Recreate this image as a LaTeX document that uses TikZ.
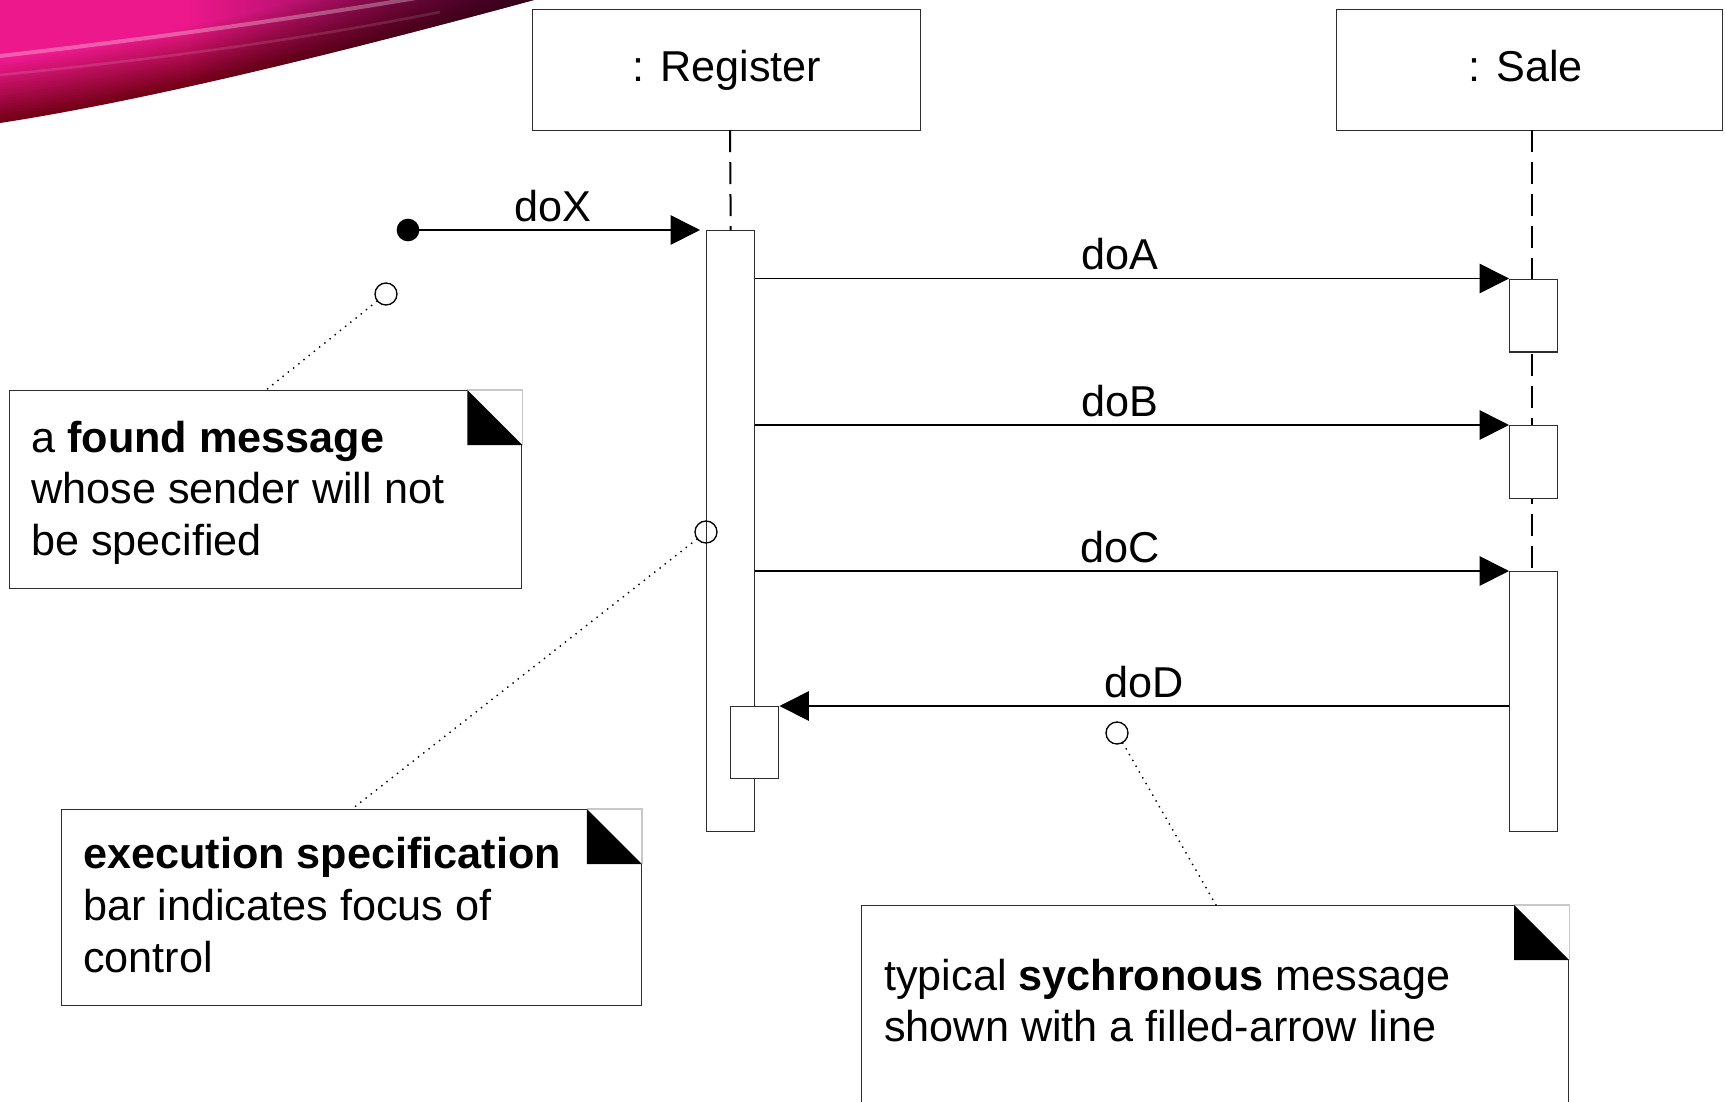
\documentclass[tikz,border=0pt]{standalone}
\usepackage{fontspec}
\setmainfont{Liberation Sans}
\usetikzlibrary{arrows.meta,calc,fadings}
\definecolor{pinkA}{RGB}{236,24,140}
\definecolor{darkB}{RGB}{115,0,22}
\definecolor{shadeC}{RGB}{35,0,30}
\definecolor{boxgray}{RGB}{45,45,45}
\definecolor{cornergray}{RGB}{200,200,200}
\tikzfading[name=darkright, left color=transparent!100, right color=transparent!0]
\begin{document}
\begin{tikzpicture}[x=0.75pt,y=-0.75pt,
  font=\fontsize{32.4}{38.9}\selectfont,
  headbox/.style={draw=boxgray, line width=1.1pt, fill=white, rectangle, inner sep=0, anchor=north west, minimum height=90.75pt},
  headname/.style={anchor=base, inner sep=0},
  barbox/.style={draw=boxgray, line width=1.1pt, fill=white, rectangle, inner sep=0, minimum width=36pt, anchor=north west},
  notebox/.style={draw=boxgray, line width=1.1pt, fill=white, rectangle, inner sep=0, anchor=north west},
  lifeline/.style={draw=black, line width=1.5pt, dash pattern=on 16.5pt off 7.5pt},
  msg/.style={draw=black, line width=1.2pt, -{Triangle[length=22pt, width=22pt]}},
  msglabel/.style={anchor=base, inner sep=0},
  notetext/.style={anchor=base west, inner sep=0},
  ocirc/.style={circle, draw=black, line width=1pt, minimum size=16.5pt, inner sep=0},
  fdot/.style={circle, fill=black, minimum size=17pt, inner sep=0},
  dotline/.style={draw=black, line width=1.5pt, line cap=round, dash pattern=on 0pt off 5pt},
]
\useasboundingbox (0,0) rectangle (1726,1101);
\fill[white] (0,0) rectangle (1726,1101);

% decorative swoosh
\begin{scope}
  \clip (0,0) -- (534,0) .. controls (350,50) and (150,100) .. (0,123) -- cycle;
  \foreach \i in {0,...,45} {
    \pgfmathsetmacro\d{\i*3}
    \pgfmathtruncatemacro\p{min(100,\i*100/20)}
    \fill[pinkA!\p!darkB] (0,-10) -- (0,123-\d) .. controls (150,100-\d) and (350,50-\d) .. (534,-\d) -- (560,-\d) -- (560,-10) -- cycle;
  }
  \fill[shadeC, path fading=darkright, fill opacity=0.8] (190,-5) rectangle (540,140);
  \draw[white, opacity=0.3, line width=3pt] (0,56) .. controls (140,40) and (300,18) .. (440,-6);
  \draw[white, opacity=0.12, line width=2pt] (0,75) .. controls (150,60) and (300,40) .. (440,12);
\end{scope}

% lifeline heads
\node[headbox, minimum width=291pt] (reg) at (532,9) {};
\node[headname] (regname) at ($(reg.north)+(0,72)$) {: Register};
\node[headbox, minimum width=289.5pt] (sale) at (1336,9) {};
\node[headname] (salename) at ($(sale.north)+(-4,72)$) {: Sale};

% coordinates for lifeline tops
\coordinate (regtop) at (730,130);
\coordinate (saletop) at (1532,130);
\coordinate (salebot) at (1532,571);

% Sale lifeline (behind bars)
\draw[lifeline] (saletop) -- (salebot);

% activation bars
\node[barbox, minimum height=450.75pt] (bar1) at (706,230) {};
\draw[lifeline] (regtop) -- (bar1.north);
\node[barbox, minimum height=54pt] (nbar) at (730,706) {};
\node[barbox, minimum height=54.4pt] (sbar1) at (1509,278.5) {};
\node[barbox, minimum height=54.4pt] (sbar2) at (1509,425) {};
\node[barbox, minimum height=195pt] (sbar3) at (1509,571) {};

% found message
\node[fdot] (dot) at (408,230) {};
\coordinate (xend) at (700,230);
\draw[msg] (dot.center) -- (xend);
\node[msglabel] (lx) at (553,221) {doX};

% messages
\draw[msg] (sbar1.north west -| bar1.east) -- (sbar1.north west);
\node[msglabel] (la) at (1120,269) {doA};
\draw[msg] (sbar2.north west -| bar1.east) -- (sbar2.north west);
\node[msglabel] (lb) at (1120,416) {doB};
\draw[msg] (sbar3.north west -| bar1.east) -- (sbar3.north west);
\node[msglabel] (lc) at (1120,562) {doC};
\draw[msg] (nbar.north east -| sbar3.west) -- (nbar.north east);
\node[msglabel] (ld) at (1144,697) {doD};

% notes
\node[notebox, minimum width=384pt, minimum height=148.5pt] (note1) at (9,390) {};
\node[notebox, minimum width=435pt, minimum height=147pt] (note2) at (60.5,809) {};
\node[notebox, minimum width=530pt, minimum height=165pt] (note3) at (861,905) {};
\foreach \n in {note1,note2,note3} {
  \fill[white] ($(\n.north east)+(-55,-3)$) rectangle ($(\n.north east)+(3,55)$);
  \draw[cornergray, line width=0.8pt] ($(\n.north east)+(-55,0)$) -- (\n.north east) -- ($(\n.north east)+(0,55)$);
  \fill[black] ($(\n.north east)+(-55,0)$) -- ($(\n.north east)+(-55,55)$) -- ($(\n.north east)+(0,55)$) -- cycle;
}

\node[notetext] (t1a) at (31,452) {a \textbf{found message}};
\node[notetext] (t1b) at (31,503) {whose sender will not};
\node[notetext] (t1c) at (31,555) {be specified};
\node[notetext] (t2a) at (83,868) {\textbf{execution specification}};
\node[notetext] (t2b) at (83,920) {bar indicates focus of};
\node[notetext] (t2c) at (83,972) {control};
\node[notetext] (t3a) at (884,990) {typical \textbf{sychronous} message};
\node[notetext] (t3b) at (884,1041) {shown with a filled-arrow line};

% annotation circles and dotted connectors
\coordinate (n1t) at (266,390);
\coordinate (n2t) at (352,809);
\coordinate (n3t) at (1216,905);
\node[ocirc] (c1) at (386,294) {};
\node[ocirc] (c2) at (706,532) {};
\node[ocirc] (c3) at (1117,733) {};
\draw[dotline] (c1) -- (n1t);
\draw[dotline] (c2) -- (n2t);
\draw[dotline] (c3) -- (n3t);
\end{tikzpicture}
\end{document}
